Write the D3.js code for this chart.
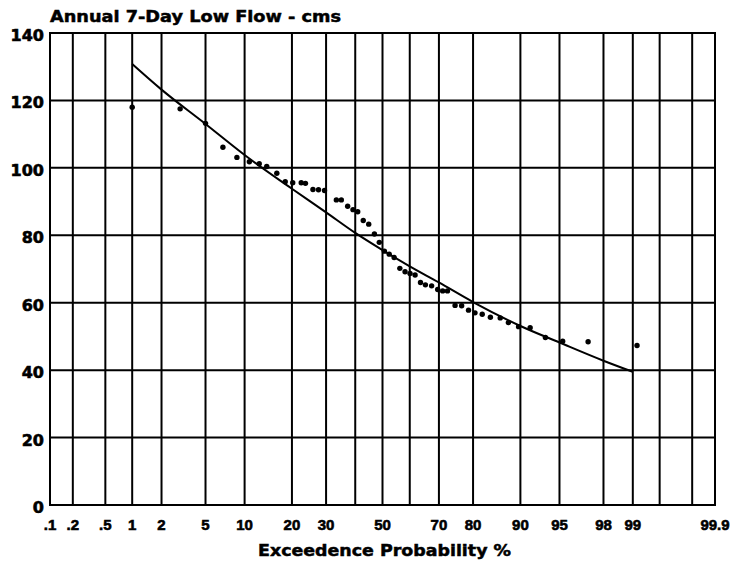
<!DOCTYPE html>
<html>
<head>
<meta charset="utf-8">
<script src="https://cdn.jsdelivr.net/npm/d3@7"></script>
<style>
  html, body { margin: 0; padding: 0; background: #fff; }
  svg { display: block; }
</style>
</head>
<body>
<svg id="chart" width="737" height="566"></svg>
<script>
// ---- data ----
const titleText = "Annual 7-Day Low Flow - cms";
const xTitleText = "Exceedence Probability %";

// observed points: exceedance probability (%) and flow (cms)
const obsProb = [1.0, 3.0, 5.0, 6.9, 8.8, 10.8, 12.6, 14.1, 16.3, 18.3,
  20.2, 22.5, 23.7, 25.9, 27.6, 29.5, 33.4, 35.1, 37.3, 39.2,
  40.9, 42.9, 44.9, 47.0, 48.8, 50.7, 52.5, 54.3, 56.4, 58.3,
  60.1, 61.9, 63.8, 65.5, 67.6, 69.6, 71.2, 72.7, 75.0, 76.9,
  78.8, 80.5, 82.3, 84.2, 86.3, 87.9, 89.7, 91.5, 93.5, 95.3,
  97.2, 99.1];
const obsFlow = [118.0, 117.5, 113.2, 106.1, 103.1, 101.8, 101.2, 100.4, 98.4, 95.9,
  95.6, 95.6, 95.4, 93.6, 93.5, 93.3, 90.5, 90.5, 88.6, 87.6,
  87.0, 84.4, 83.3, 80.4, 77.9, 75.3, 74.4, 73.4, 70.2, 69.2,
  68.7, 68.2, 66.0, 65.3, 65.0, 63.9, 63.5, 63.5, 59.2, 59.1,
  57.8, 57.0, 56.6, 55.7, 55.5, 54.1, 52.9, 52.6, 49.7, 48.6,
  48.4, 47.3];

// fitted frequency curve
const fitProb = [1, 2, 5, 10, 20, 30, 40, 50, 60, 70, 80, 90, 95, 98, 99];
const fitFlow = [130.8, 123.2, 113.0, 103.8, 93.8, 86.8, 80.7, 75.6, 70.8, 66.0, 60.2, 53.1, 48.2, 42.8, 39.5];

// axes
const gridProb = [0.1, 0.2, 0.5, 1, 2, 5, 10, 20, 30, 40, 50, 60, 70, 80, 90, 95, 98, 99, 99.5, 99.8, 99.9];
const labelProb = [0.1, 0.2, 0.5, 1, 2, 5, 10, 20, 30, 50, 70, 80, 90, 95, 98, 99, 99.9];
const labelText = [".1", ".2", ".5", "1", "2", "5", "10", "20", "30", "50", "70", "80", "90", "95", "98", "99", "99.9"];
const yTicks = [0, 20, 40, 60, 80, 100, 120, 140];

// ---- inverse standard normal (Acklam) ----
function probit(p) {
  const a = [-3.969683028665376e+01, 2.209460984245205e+02, -2.759285104469687e+02, 1.383577518672690e+02, -3.066479806614716e+01, 2.506628277459239e+00];
  const b = [-5.447609879822406e+01, 1.615858368580409e+02, -1.556989798598866e+02, 6.680131188771972e+01, -1.328068155288572e+01];
  const c = [-7.784894002430293e-03, -3.223964580411365e-01, -2.400758277161838e+00, -2.549732539343734e+00, 4.374664141464968e+00, 2.938163982698783e+00];
  const d = [7.784695709041462e-03, 3.224671290700398e-01, 2.445134137142996e+00, 3.754408661907416e+00];
  const pl = 0.02425, ph = 1 - pl;
  let q, r;
  if (p < pl) {
    q = Math.sqrt(-2 * Math.log(p));
    return (((((c[0]*q+c[1])*q+c[2])*q+c[3])*q+c[4])*q+c[5]) / ((((d[0]*q+d[1])*q+d[2])*q+d[3])*q+1);
  } else if (p <= ph) {
    q = p - 0.5; r = q * q;
    return (((((a[0]*r+a[1])*r+a[2])*r+a[3])*r+a[4])*r+a[5])*q / (((((b[0]*r+b[1])*r+b[2])*r+b[3])*r+b[4])*r+1);
  } else {
    q = Math.sqrt(-2 * Math.log(1 - p));
    return -(((((c[0]*q+c[1])*q+c[2])*q+c[3])*q+c[4])*q+c[5]) / ((((d[0]*q+d[1])*q+d[2])*q+d[3])*q+1);
  }
}

// ---- layout ----
const svg = d3.select("#chart");
const plotLeft = 50, plotRight = 715, plotTop = 33, plotBottom = 505;

const zScale = d3.scaleLinear()
  .domain([probit(0.001), probit(0.999)])
  .range([plotLeft, plotRight]);
const x = p => zScale(probit(p / 100));
const y = d3.scaleLinear().domain([0, 140]).range([plotBottom, plotTop]);

const ink = "#000";

// grid: vertical
svg.append("g").selectAll("line").data(gridProb).join("line")
  .attr("x1", d => x(d)).attr("x2", d => x(d))
  .attr("y1", y(0)).attr("y2", y(140))
  .attr("stroke", ink).attr("stroke-width", 2);

// grid: horizontal
svg.append("g").selectAll("line").data(yTicks).join("line")
  .attr("x1", x(0.1) - 1).attr("x2", x(99.9) + 1)
  .attr("y1", d => y(d)).attr("y2", d => y(d))
  .attr("stroke", ink).attr("stroke-width", 2);

// y labels
svg.append("g").selectAll("text").data(yTicks).join("text")
  .attr("x", plotLeft - 6)
  .attr("y", d => y(d) + 8)
  .attr("text-anchor", "end")
  .attr("font-family", "DejaVu Sans, sans-serif")
  .attr("font-weight", "bold")
  .attr("font-size", 16)
  .attr("fill", ink)
  .attr("stroke", ink).attr("stroke-width", 0.6)
  .text(d => d);

// x labels
svg.append("g").selectAll("text").data(labelProb).join("text")
  .attr("x", d => x(d))
  .attr("y", 530)
  .attr("text-anchor", "middle")
  .attr("font-family", "Liberation Sans, Arial, sans-serif")
  .attr("font-weight", "bold")
  .attr("font-size", 15)
  .attr("fill", ink)
  .attr("stroke", ink).attr("stroke-width", 0.6)
  .text((d, i) => labelText[i]);

// title
svg.append("text")
  .attr("x", 50).attr("y", 22)
  .attr("font-family", "DejaVu Sans, sans-serif")
  .attr("font-weight", "bold")
  .attr("font-size", 16)
  .attr("textLength", 291)
  .attr("lengthAdjust", "spacingAndGlyphs")
  .attr("fill", ink)
  .attr("stroke", ink).attr("stroke-width", 0.5)
  .text(titleText);

// x title
svg.append("text")
  .attr("x", 258).attr("y", 556)
  .attr("font-family", "DejaVu Sans, sans-serif")
  .attr("font-weight", "bold")
  .attr("font-size", 16)
  .attr("textLength", 253)
  .attr("lengthAdjust", "spacingAndGlyphs")
  .attr("fill", ink)
  .attr("stroke", ink).attr("stroke-width", 0.5)
  .text(xTitleText);

// fitted curve
const fitData = fitProb.map((p, i) => [p, fitFlow[i]]);
svg.append("path")
  .datum(fitData)
  .attr("fill", "none")
  .attr("stroke", ink)
  .attr("stroke-width", 2)
  .attr("d", d3.line().x(d => x(d[0])).y(d => y(d[1])).curve(d3.curveMonotoneX));

// observed points
const obsData = obsProb.map((p, i) => [p, obsFlow[i]]);
svg.append("g").selectAll("circle").data(obsData).join("circle")
  .attr("cx", d => x(d[0]))
  .attr("cy", d => y(d[1]))
  .attr("r", 2.7)
  .attr("fill", ink);
</script>
</body>
</html>
